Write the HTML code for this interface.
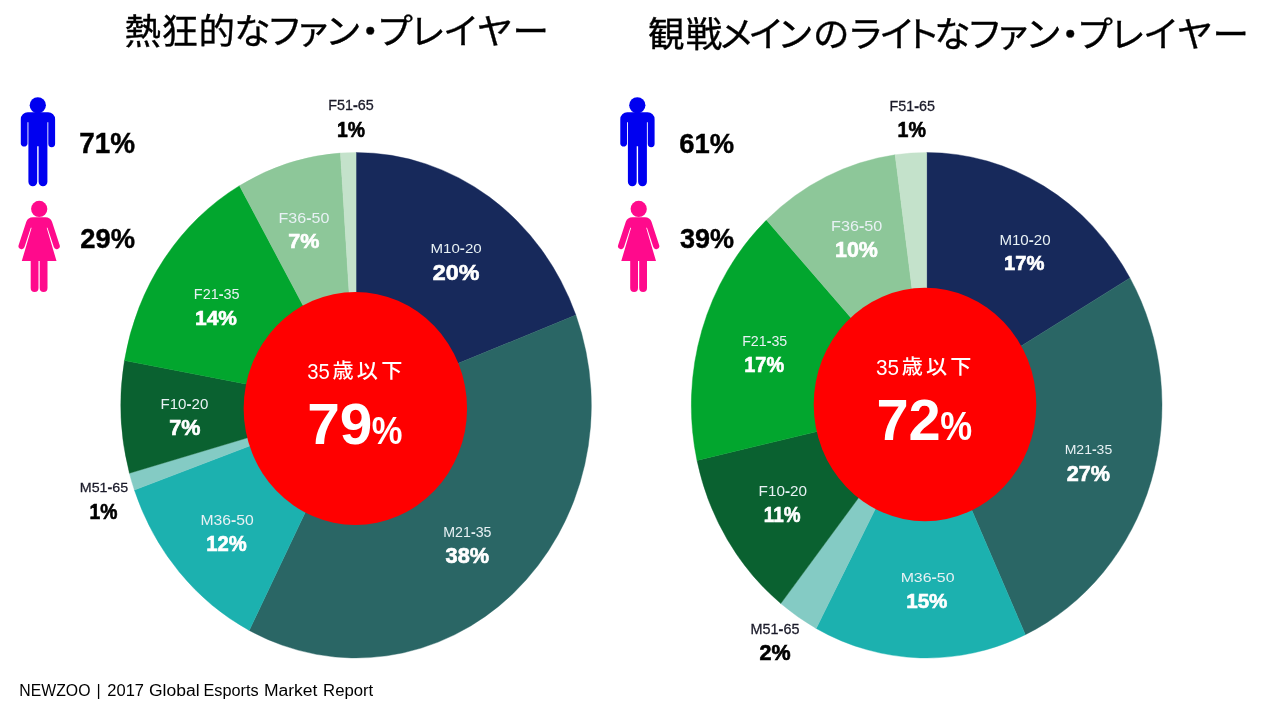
<!DOCTYPE html>
<html lang="ja"><head><meta charset="utf-8"><title>Esports fans</title>
<style>html,body{margin:0;padding:0;background:#fff;overflow:hidden}svg{display:block;will-change:transform;transform:translateZ(0)}text{white-space:pre}</style></head>
<body>
<svg width="1280" height="720" viewBox="0 0 1280 720">
<rect width="1280" height="720" fill="#fff"/>
<text transform="scale(1,0.975)" x="124.5 161.4 198.6 234.3 266.6 295.1 325.1 352.1 376.6 409.3 443.0 476.7 512.6" y="45.33" font-size="36.5" font-family="'Liberation Sans', 'Noto Sans CJK JP', sans-serif" font-weight="400" fill="#000" stroke="#000" stroke-width="0.35">熱狂的なファン・プレイヤー</text>
<text transform="scale(1,0.975)" x="648.0 685.8 718.1 748.1 777.0 813.0 847.2 878.9 904.0 934.3 966.6 995.1 1025.2 1052.1 1076.6 1109.3 1143.0 1176.7 1212.6" y="48.51" font-size="36.5" font-family="'Liberation Sans', 'Noto Sans CJK JP', sans-serif" font-weight="400" fill="#000" stroke="#000" stroke-width="0.35">観戦メインのライトなファン・プレイヤー</text>
<path d="M356.05,405.25 L356.05,152.50 A235.3,252.75 0 0 1 575.87,315.08 Z" fill="#17295B" stroke="#17295B" stroke-width="0.4"/>
<path d="M356.05,405.25 L575.87,315.08 A235.3,252.75 0 0 1 249.23,630.45 Z" fill="#2A6665" stroke="#2A6665" stroke-width="0.4"/>
<path d="M356.05,405.25 L249.23,630.45 A235.3,252.75 0 0 1 134.38,490.04 Z" fill="#1CB1AF" stroke="#1CB1AF" stroke-width="0.4"/>
<path d="M356.05,405.25 L134.38,490.04 A235.3,252.75 0 0 1 129.42,473.22 Z" fill="#84CBC4" stroke="#84CBC4" stroke-width="0.4"/>
<path d="M356.05,405.25 L129.42,473.22 A235.3,252.75 0 0 1 124.47,360.49 Z" fill="#0A6130" stroke="#0A6130" stroke-width="0.4"/>
<path d="M356.05,405.25 L124.47,360.49 A235.3,252.75 0 0 1 239.47,185.70 Z" fill="#02A62E" stroke="#02A62E" stroke-width="0.4"/>
<path d="M356.05,405.25 L239.47,185.70 A235.3,252.75 0 0 1 340.46,153.06 Z" fill="#8DC799" stroke="#8DC799" stroke-width="0.4"/>
<path d="M356.05,405.25 L340.46,153.06 A235.3,252.75 0 0 1 356.05,152.50 Z" fill="#C4E2CB" stroke="#C4E2CB" stroke-width="0.4"/>
<ellipse cx="355.35" cy="408.45" rx="111.7" ry="116.5" fill="#FF0000"/>
<path d="M926.65,405.25 L926.65,152.50 A235.35,252.75 0 0 1 1129.95,277.92 Z" fill="#17295B" stroke="#17295B" stroke-width="0.4"/>
<path d="M926.65,405.25 L1129.95,277.92 A235.35,252.75 0 0 1 1025.37,634.69 Z" fill="#2A6665" stroke="#2A6665" stroke-width="0.4"/>
<path d="M926.65,405.25 L1025.37,634.69 A235.35,252.75 0 0 1 816.16,628.42 Z" fill="#1CB1AF" stroke="#1CB1AF" stroke-width="0.4"/>
<path d="M926.65,405.25 L816.16,628.42 A235.35,252.75 0 0 1 780.79,603.60 Z" fill="#84CBC4" stroke="#84CBC4" stroke-width="0.4"/>
<path d="M926.65,405.25 L780.79,603.60 A235.35,252.75 0 0 1 696.97,460.39 Z" fill="#0A6130" stroke="#0A6130" stroke-width="0.4"/>
<path d="M926.65,405.25 L696.97,460.39 A235.35,252.75 0 0 1 766.44,220.10 Z" fill="#02A62E" stroke="#02A62E" stroke-width="0.4"/>
<path d="M926.65,405.25 L766.44,220.10 A235.35,252.75 0 0 1 895.12,154.78 Z" fill="#8DC799" stroke="#8DC799" stroke-width="0.4"/>
<path d="M926.65,405.25 L895.12,154.78 A235.35,252.75 0 0 1 926.65,152.50 Z" fill="#C4E2CB" stroke="#C4E2CB" stroke-width="0.4"/>
<ellipse cx="925" cy="404.5" rx="111.3" ry="116.7" fill="#FF0000"/>
<g transform="translate(0,0)" fill="#0000F0">
<circle cx="37.8" cy="105.3" r="8.1"/>
<path d="M20.8,119.2 a7,7 0 0 1 7,-7 h20.3 a7,7 0 0 1 7,7 v24.6 a3.4,3.4 0 0 1 -6.8,0 v-21.5 h-0.9 v59.5 a4.4,4.4 0 0 1 -8.8,0 v-35.5 h-1.4 v35.5 a4.4,4.4 0 0 1 -8.8,0 v-59.5 h-0.9 v21.5 a3.4,3.4 0 0 1 -6.7,0 z"/>
</g>
<g transform="translate(0,0)" fill="#FF0A8C">
<circle cx="39.2" cy="208.9" r="8.1"/>
<path d="M33,217.2 h12.4 a7,7 0 0 1 6.6,4.6 l7.7,23.4 a3.1,3.1 0 0 1 -5.9,1.9 l-6.3,-19.3 h-0.8 l9.8,33.2 h-9 v27 a3.9,3.9 0 0 1 -7.8,0 v-27 h-1.2 v27 a3.9,3.9 0 0 1 -7.8,0 v-27 h-8.9 l9.8,-33.2 h-0.8 l-6.3,19.3 a3.1,3.1 0 0 1 -5.9,-1.9 l7.7,-23.4 a7,7 0 0 1 6.6,-4.6 z"/>
</g>
<g transform="translate(599.5,0)" fill="#0000F0">
<circle cx="37.8" cy="105.3" r="8.1"/>
<path d="M20.8,119.2 a7,7 0 0 1 7,-7 h20.3 a7,7 0 0 1 7,7 v24.6 a3.4,3.4 0 0 1 -6.8,0 v-21.5 h-0.9 v59.5 a4.4,4.4 0 0 1 -8.8,0 v-35.5 h-1.4 v35.5 a4.4,4.4 0 0 1 -8.8,0 v-59.5 h-0.9 v21.5 a3.4,3.4 0 0 1 -6.7,0 z"/>
</g>
<g transform="translate(599.5,0)" fill="#FF0A8C">
<circle cx="39.2" cy="208.9" r="8.1"/>
<path d="M33,217.2 h12.4 a7,7 0 0 1 6.6,4.6 l7.7,23.4 a3.1,3.1 0 0 1 -5.9,1.9 l-6.3,-19.3 h-0.8 l9.8,33.2 h-9 v27 a3.9,3.9 0 0 1 -7.8,0 v-27 h-1.2 v27 a3.9,3.9 0 0 1 -7.8,0 v-27 h-8.9 l9.8,-33.2 h-0.8 l-6.3,19.3 a3.1,3.1 0 0 1 -5.9,-1.9 l7.7,-23.4 a7,7 0 0 1 6.6,-4.6 z"/>
</g>
<text transform="translate(79.18,152.53) scale(0.9747,1)" font-size="28.61" font-family="'Liberation Sans', sans-serif" font-weight="700" fill="#000" stroke="#000" stroke-width="0.43" style="">71%</text>
<text transform="translate(80.28,247.84) scale(0.9686,1)" font-size="28.22" font-family="'Liberation Sans', sans-serif" font-weight="700" fill="#000" stroke="#000" stroke-width="0.42" style="">29%</text>
<text transform="translate(328.19,110.32) scale(1.0382,1)" font-size="13.84" font-family="'Liberation Sans', sans-serif" font-weight="400" fill="#1B1B2A" stroke="#1B1B2A" stroke-width="0.28" style="">F51<tspan font-weight="700">-</tspan>65</text>
<text transform="translate(337.03,136.86) scale(0.8883,1)" font-size="21.78" font-family="'Liberation Sans', sans-serif" font-weight="700" fill="#000" stroke="#000" stroke-width="0.65" style="">1%</text>
<text transform="translate(430.49,253.16) scale(1.1058,1)" font-size="13.66" font-family="'Liberation Sans', sans-serif" font-weight="400" fill="#E8F1F4" style="">M10<tspan font-weight="700">-</tspan>20</text>
<text transform="translate(432.84,279.57) scale(1.0879,1)" font-size="21.37" font-family="'Liberation Sans', sans-serif" font-weight="700" fill="#FFFFFF" stroke="#FFFFFF" stroke-width="0.64" style="">20%</text>
<text transform="translate(443.26,536.86) scale(1.0302,1)" font-size="13.80" font-family="'Liberation Sans', sans-serif" font-weight="400" fill="#E8F1F4" style="">M21<tspan font-weight="700">-</tspan>35</text>
<text transform="translate(445.58,562.88) scale(1.0252,1)" font-size="21.23" font-family="'Liberation Sans', sans-serif" font-weight="700" fill="#FFFFFF" stroke="#FFFFFF" stroke-width="0.64" style="">38%</text>
<text transform="translate(200.44,524.86) scale(1.1160,1)" font-size="14.08" font-family="'Liberation Sans', sans-serif" font-weight="400" fill="#E8F1F4" style="">M36<tspan font-weight="700">-</tspan>50</text>
<text transform="translate(206.19,551.26) scale(0.9277,1)" font-size="21.78" font-family="'Liberation Sans', sans-serif" font-weight="700" fill="#FFFFFF" stroke="#FFFFFF" stroke-width="0.65" style="">12%</text>
<text transform="translate(79.80,492.43) scale(1.0406,1)" font-size="13.70" font-family="'Liberation Sans', sans-serif" font-weight="400" fill="#1B1B2A" stroke="#1B1B2A" stroke-width="0.27" style="">M51<tspan font-weight="700">-</tspan>65</text>
<text transform="translate(89.53,518.78) scale(0.9142,1)" font-size="21.16" font-family="'Liberation Sans', sans-serif" font-weight="700" fill="#000" stroke="#000" stroke-width="0.63" style="">1%</text>
<text transform="translate(160.49,408.96) scale(1.0731,1)" font-size="14.08" font-family="'Liberation Sans', sans-serif" font-weight="400" fill="#E8F1F4" style="">F10<tspan font-weight="700">-</tspan>20</text>
<text transform="translate(169.15,434.88) scale(1.0159,1)" font-size="21.23" font-family="'Liberation Sans', sans-serif" font-weight="700" fill="#FFFFFF" stroke="#FFFFFF" stroke-width="0.64" style="">7%</text>
<text transform="translate(193.84,298.76) scale(1.0475,1)" font-size="13.80" font-family="'Liberation Sans', sans-serif" font-weight="400" fill="#E8F1F4" style="">F21<tspan font-weight="700">-</tspan>35</text>
<text transform="translate(195.05,324.78) scale(0.9920,1)" font-size="21.10" font-family="'Liberation Sans', sans-serif" font-weight="700" fill="#FFFFFF" stroke="#FFFFFF" stroke-width="0.63" style="">14%</text>
<text transform="translate(278.52,222.66) scale(1.1383,1)" font-size="14.08" font-family="'Liberation Sans', sans-serif" font-weight="400" fill="#E8F1F4" style="">F36<tspan font-weight="700">-</tspan>50</text>
<text transform="translate(288.25,248.48) scale(1.0292,1)" font-size="20.96" font-family="'Liberation Sans', sans-serif" font-weight="700" fill="#FFFFFF" stroke="#FFFFFF" stroke-width="0.63" style="">7%</text>
<text transform="translate(307.19,378.77) scale(0.9004,1)" font-size="22.54" font-family="'Liberation Sans', sans-serif" font-weight="400" fill="#FFFFFF" style="">35</text>
<text transform="translate(332.57,377.94) scale(1.0232,1)" font-size="20.64" font-family="'Liberation Sans', 'Noto Sans CJK JP', sans-serif" font-weight="500" fill="#FFFFFF" style="letter-spacing:0.15em">歳以下</text>
<text transform="translate(307.15,443.83) scale(1.0357,1)" font-size="56.62" font-family="'Liberation Sans', sans-serif" font-weight="700" fill="#FFFFFF" style="">79</text>
<text transform="translate(371.86,444.30) scale(0.8707,1)" font-size="39.71" font-family="'Liberation Sans', sans-serif" font-weight="700" fill="#FFFFFF" style="">%</text>
<text transform="translate(679.18,152.54) scale(0.9704,1)" font-size="28.22" font-family="'Liberation Sans', sans-serif" font-weight="700" fill="#000" stroke="#000" stroke-width="0.42" style="">61%</text>
<text transform="translate(680.06,247.84) scale(0.9582,1)" font-size="28.22" font-family="'Liberation Sans', sans-serif" font-weight="700" fill="#000" stroke="#000" stroke-width="0.42" style="">39%</text>
<text transform="translate(889.60,110.53) scale(1.0463,1)" font-size="13.70" font-family="'Liberation Sans', sans-serif" font-weight="400" fill="#1B1B2A" stroke="#1B1B2A" stroke-width="0.27" style="">F51<tspan font-weight="700">-</tspan>65</text>
<text transform="translate(897.52,136.78) scale(0.9249,1)" font-size="21.23" font-family="'Liberation Sans', sans-serif" font-weight="700" fill="#000" stroke="#000" stroke-width="0.64" style="">1%</text>
<text transform="translate(999.39,244.56) scale(1.0726,1)" font-size="14.08" font-family="'Liberation Sans', sans-serif" font-weight="400" fill="#E8F1F4" style="">M10<tspan font-weight="700">-</tspan>20</text>
<text transform="translate(1003.99,270.48) scale(0.9641,1)" font-size="20.96" font-family="'Liberation Sans', sans-serif" font-weight="700" fill="#FFFFFF" stroke="#FFFFFF" stroke-width="0.63" style="">17%</text>
<text transform="translate(1064.68,454.26) scale(1.0274,1)" font-size="13.66" font-family="'Liberation Sans', sans-serif" font-weight="400" fill="#E8F1F4" style="">M21<tspan font-weight="700">-</tspan>35</text>
<text transform="translate(1066.77,480.68) scale(1.0184,1)" font-size="21.23" font-family="'Liberation Sans', sans-serif" font-weight="700" fill="#FFFFFF" stroke="#FFFFFF" stroke-width="0.64" style="">27%</text>
<text transform="translate(900.63,582.07) scale(1.2011,1)" font-size="13.24" font-family="'Liberation Sans', sans-serif" font-weight="400" fill="#E8F1F4" style="">M36<tspan font-weight="700">-</tspan>50</text>
<text transform="translate(906.17,608.18) scale(0.9838,1)" font-size="20.96" font-family="'Liberation Sans', sans-serif" font-weight="700" fill="#FFFFFF" stroke="#FFFFFF" stroke-width="0.63" style="">15%</text>
<text transform="translate(750.59,633.52) scale(1.0311,1)" font-size="13.97" font-family="'Liberation Sans', sans-serif" font-weight="400" fill="#1B1B2A" stroke="#1B1B2A" stroke-width="0.28" style="">M51<tspan font-weight="700">-</tspan>65</text>
<text transform="translate(759.47,660.35) scale(0.9624,1)" font-size="22.33" font-family="'Liberation Sans', sans-serif" font-weight="700" fill="#000" stroke="#000" stroke-width="0.67" style="">2%</text>
<text transform="translate(758.58,495.75) scale(1.0532,1)" font-size="14.51" font-family="'Liberation Sans', sans-serif" font-weight="400" fill="#E8F1F4" style="">F10<tspan font-weight="700">-</tspan>20</text>
<text transform="translate(763.76,521.78) scale(0.8893,1)" font-size="21.23" font-family="'Liberation Sans', sans-serif" font-weight="700" fill="#FFFFFF" stroke="#FFFFFF" stroke-width="0.64" style="">11%</text>
<text transform="translate(742.16,345.96) scale(1.0103,1)" font-size="14.08" font-family="'Liberation Sans', sans-serif" font-weight="400" fill="#E8F1F4" style="">F21<tspan font-weight="700">-</tspan>35</text>
<text transform="translate(744.31,372.37) scale(0.9311,1)" font-size="21.37" font-family="'Liberation Sans', sans-serif" font-weight="700" fill="#FFFFFF" stroke="#FFFFFF" stroke-width="0.64" style="">17%</text>
<text transform="translate(831.11,231.26) scale(1.1476,1)" font-size="14.08" font-family="'Liberation Sans', sans-serif" font-weight="400" fill="#E8F1F4" style="">F36<tspan font-weight="700">-</tspan>50</text>
<text transform="translate(835.03,257.37) scale(1.0010,1)" font-size="21.37" font-family="'Liberation Sans', sans-serif" font-weight="700" fill="#FFFFFF" stroke="#FFFFFF" stroke-width="0.64" style="">10%</text>
<text transform="translate(876.07,375.27) scale(0.9220,1)" font-size="22.54" font-family="'Liberation Sans', sans-serif" font-weight="400" fill="#FFFFFF" style="">35</text>
<text transform="translate(901.77,374.47) scale(1.0393,1)" font-size="20.32" font-family="'Liberation Sans', 'Noto Sans CJK JP', sans-serif" font-weight="500" fill="#FFFFFF" style="letter-spacing:0.15em">歳以下</text>
<text transform="translate(876.44,439.70) scale(1.0118,1)" font-size="57.14" font-family="'Liberation Sans', sans-serif" font-weight="700" fill="#FFFFFF" style="">72</text>
<text transform="translate(940.32,440.10) scale(0.8881,1)" font-size="40.43" font-family="'Liberation Sans', sans-serif" font-weight="700" fill="#FFFFFF" style="">%</text>
<text transform="translate(19.34,696.1) scale(0.9883,1)" font-size="16.0" font-family="'Liberation Sans', sans-serif" fill="#000">NEWZOO</text>
<text transform="translate(96.57,696.1) scale(1.0000,1)" font-size="16.0" font-family="'Liberation Sans', sans-serif" fill="#000">|</text>
<text transform="translate(107.27,696.1) scale(1.0318,1)" font-size="16.0" font-family="'Liberation Sans', sans-serif" fill="#000">2017</text>
<text transform="translate(148.92,696.1) scale(1.0943,1)" font-size="16.0" font-family="'Liberation Sans', sans-serif" fill="#000">Global</text>
<text transform="translate(203.50,696.1) scale(1.0168,1)" font-size="16.0" font-family="'Liberation Sans', sans-serif" fill="#000">Esports</text>
<text transform="translate(263.90,696.1) scale(1.0943,1)" font-size="16.0" font-family="'Liberation Sans', sans-serif" fill="#000">Market</text>
<text transform="translate(323.06,696.1) scale(1.0460,1)" font-size="16.0" font-family="'Liberation Sans', sans-serif" fill="#000">Report</text>
</svg>
</body></html>
